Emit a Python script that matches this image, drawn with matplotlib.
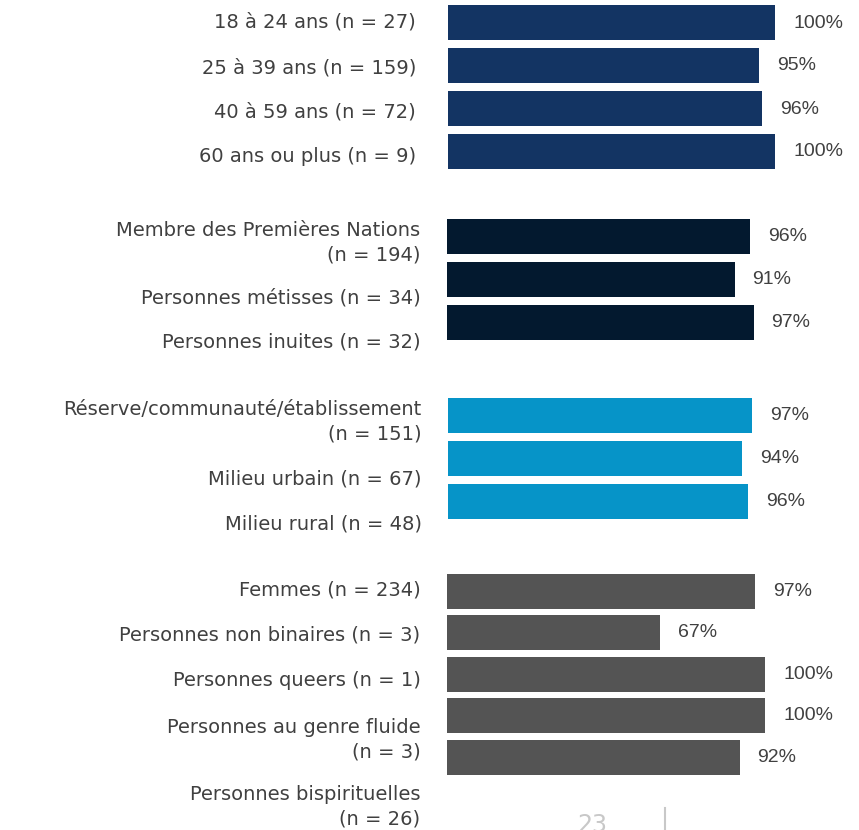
import matplotlib.pyplot as plt

# data
groups = [
    ["18 à 24 ans (n = 27)", "25 à 39 ans (n = 159)", "40 à 59 ans (n = 72)", "60 ans ou plus (n = 9)"],
    ["Membre des Premières Nations\n(n = 194)", "Personnes métisses (n = 34)", "Personnes inuites (n = 32)"],
    ["Réserve/communauté/établissement\n(n = 151)", "Milieu urbain (n = 67)", "Milieu rural (n = 48)"],
    ["Femmes (n = 234)", "Personnes non binaires (n = 3)", "Personnes queers (n = 1)",
     "Personnes au genre fluide\n(n = 3)", "Personnes bispirituelles\n(n = 26)"],
]
values = [
    [100, 95, 96, 100],
    [96, 91, 97],
    [97, 94, 96],
    [97, 67, 100, 100, 92],
]
colors = ["#133463", "#03192f", "#0694c8", "#545454"]

# layout (pixels in an 859x830 figure)
bar_start = [23, 236, 415, 591]
bar_step = [43, 43, 43, 41.5]
label_y = [
    [20, 66, 110, 155],
    [238, 296, 340],
    [417, 477, 522],
    [588, 633, 678, 735, 802],
]
axis_left = [448, 447, 448, 447]
px_per_100 = [327, 316, 313, 318]
label_pad = [23, 19, 19, 19]

W, H = 859, 830
fig = plt.figure(figsize=(W / 100, H / 100), dpi=100)

for g in range(len(groups)):
    left = axis_left[g]
    ax = fig.add_axes([left / W, 0, (W - left) / W, 1])
    ax.patch.set_alpha(0)
    ax.set_xlim(0, 100 * (W - left) / px_per_100[g])
    ax.set_ylim(H, 0)
    ys = [bar_start[g] + i * bar_step[g] for i in range(len(values[g]))]
    ax.barh(ys, values[g], height=35, color=colors[g])
    for y, v in zip(ys, values[g]):
        ax.annotate(f"{v}%", (v, y), xytext=(13, 0), textcoords="offset points",
                    va="center", ha="left", fontsize=14, color="#404040",
                    family="Liberation Sans")
    ax.set_yticks(label_y[g])
    ax.set_yticklabels(groups[g], fontsize=14, color="#404040", family="DejaVu Sans",
                       linespacing=1.35)
    ax.tick_params(axis="y", length=0, pad=label_pad[g])
    ax.set_xticks([])
    for s in ax.spines.values():
        s.set_visible(False)

# page footer (cut off at the bottom edge, as in the source page)
fig.text(592 / W, 1 - 813 / H, "23", ha="center", va="top", fontsize=17, color="#c8c8c8")
fig.add_artist(plt.Line2D([665 / W, 665 / W], [0, 1 - 808 / H], color="#c8c8c8", lw=1.5))

plt.savefig("out.png", dpi=100)
